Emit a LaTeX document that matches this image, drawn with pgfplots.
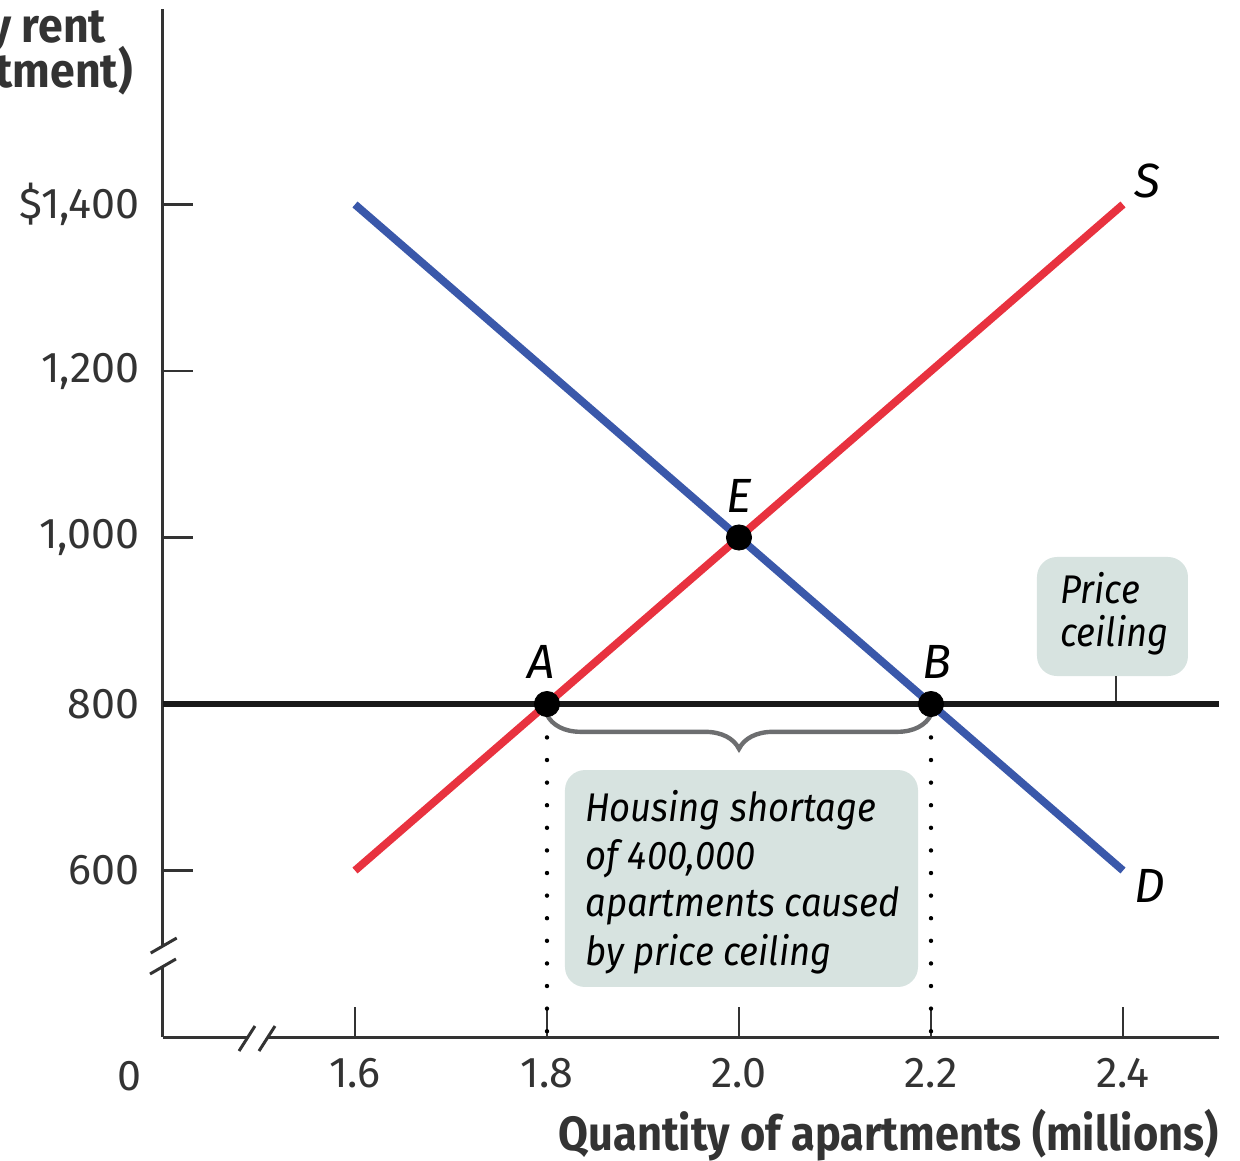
\documentclass[border=0pt]{standalone}
\usepackage{fontspec}
\setmainfont{Fira Sans}
\usepackage{graphicx}
\usepackage{pgfplots}
\pgfplotsset{compat=1.18}
\usetikzlibrary{decorations.pathreplacing}
\definecolor{supred}{HTML}{E8323F}
\definecolor{demblue}{HTML}{3A58AA}
\definecolor{axgray}{HTML}{333333}
\definecolor{boxfill}{HTML}{D7E3E0}
\definecolor{bracegray}{HTML}{6D6E70}
\newcommand{\tickfont}{\fontsize{21.5bp}{24bp}\selectfont}
\newcommand{\boxfont}{\fontsize{20bp}{24bp}\selectfont\itshape}
\newcommand{\ptfont}{\fontsize{24bp}{28bp}\selectfont\itshape}
\newcommand{\labfont}{\fontsize{24bp}{28bp}\selectfont\bfseries}
\newcommand{\bx}[1]{\scalebox{0.91}[1]{#1}}
\begin{document}
\begin{tikzpicture}
\begin{axis}[
 scale only axis, width=528bp, height=514.1bp,
 xmin=1.4, xmax=2.5, ymin=400, ymax=1635,
 axis x line*=bottom, axis y line*=left,
 axis line style={-, line width=1.5bp, color=axgray},
 xtick={1.6,1.8,2.0,2.2,2.4}, xticklabels={1.6,1.8,2.0,2.2,2.4},
 ytick={600,800,1000,1200,1400}, yticklabels={600,800,{1,000},{1,200},{\$1,400}},
 tick align=inside, major tick length=15bp,
 tick style={line width=1.25bp, color=axgray},
 ticklabel style={font=\tickfont, text=axgray},
 xticklabel style={inner sep=0pt, anchor=north, yshift=-10.5bp},
 yticklabel style={inner sep=0pt, anchor=east, xshift=-11.5bp},
 clip=false,
]
% price ceiling box (behind)
\fill[boxfill, rounded corners=10bp] (axis cs:2.3104,833.6) rectangle (axis cs:2.4677,976.6);
\draw[axgray, line width=1.25bp] (axis cs:2.3927,833.6) -- (axis cs:2.3927,800);
% shortage box
\fill[boxfill, rounded corners=10bp] (axis cs:1.81875,460.1) rectangle (axis cs:2.18646,720.7);

% dotted drop lines
\addplot[black, line width=2.2bp, line cap=round, dash pattern=on 0pt off 11.3bp] coordinates {(1.8,787) (1.8,400)};
\addplot[black, line width=2.2bp, line cap=round, dash pattern=on 0pt off 11.3bp] coordinates {(2.2,787) (2.2,400)};

% curves
\addplot[supred, line width=3.9bp] coordinates {(1.6,600) (2.4,1400)};
\addplot[demblue, line width=3.9bp] coordinates {(1.6,1400) (2.4,600)};
\addplot[black!90, line width=3.3bp] coordinates {(1.4,800) (2.5,800)};
\addplot[only marks, mark=*, mark size=6.3bp, black] coordinates {(1.8,800) (2.2,800) (2.0,1000)};

% brace
\draw[bracegray, line width=2.2bp, decorate, decoration={brace, amplitude=17bp, mirror}] (axis cs:1.8,787) -- (axis cs:2.2,787);

% box texts
\node[anchor=base west, inner sep=0, font=\boxfont] at (axis cs:1.8396,658.6) {\bx{Housing shortage}};
\node[anchor=base west, inner sep=0, font=\boxfont] at (axis cs:1.8396,601.4) {\bx{of 400,000}};
\node[anchor=base west, inner sep=0, font=\boxfont] at (axis cs:1.8396,544.5) {\bx{apartments caused}};
\node[anchor=base west, inner sep=0, font=\boxfont] at (axis cs:1.8396,486.5) {\bx{by price ceiling}};
\node[anchor=base west, inner sep=0, font=\boxfont] at (axis cs:2.3344,921.3) {\bx{Price}};
\node[anchor=base west, inner sep=0, font=\boxfont] at (axis cs:2.3344,868.5) {\bx{ceiling}};

% point labels
\node[anchor=base, inner sep=0, font=\ptfont] at (axis cs:1.79375,831.2) {A};
\node[anchor=base, inner sep=0, font=\ptfont] at (axis cs:2.20625,831.2) {B};
\node[anchor=base, inner sep=0, font=\ptfont] at (axis cs:2.0,1030.6) {E};
\node[anchor=base, inner sep=0, font=\ptfont] at (axis cs:2.425,1407.8) {S};
\node[anchor=base, inner sep=0, font=\ptfont] at (axis cs:2.428,561.0) {D};

% zero
\node[anchor=base, inner sep=0, font=\tickfont, text=axgray] at (axis cs:1.3656,336.3) {0};

% axis labels
\node[anchor=base east, inner sep=0, font=\labfont, text=axgray] at (axis cs:2.5,264.3) {\resizebox{330bp}{\height}{Quantity of apartments (millions)}};
\node[anchor=base east, inner sep=0, font=\labfont, text=axgray] at (axis cs:1.341,1594.0) {\scalebox{0.93}[1]{Monthly rent}};
\node[anchor=base east, inner sep=0, font=\labfont, text=axgray] at (axis cs:1.36875,1540.0) {\scalebox{0.93}[1]{(per apartment)}};

% axis breaks
\fill[white] (axis cs:1.385,485) rectangle (axis cs:1.415,508);
\draw[axgray, line width=1.5bp] (axis cs:1.3872,500.9) -- (axis cs:1.4143,518.9);
\draw[axgray, line width=1.5bp] (axis cs:1.3865,475.7) -- (axis cs:1.4135,493.7);
\fill[white] (axis cs:1.4875,390) rectangle (axis cs:1.5083,410);
\draw[axgray, line width=1.5bp] (axis cs:1.4792,383.2) -- (axis cs:1.4958,413.2);
\draw[axgray, line width=1.5bp] (axis cs:1.5,383.2) -- (axis cs:1.5167,413.2);

\coordinate (bl) at (axis cs:1.23021,252.25);
\coordinate (tr) at (axis cs:2.52188,1645.6);
\end{axis}
\pgfresetboundingbox
\path[use as bounding box] (bl) rectangle (tr);
\end{tikzpicture}
\end{document}
